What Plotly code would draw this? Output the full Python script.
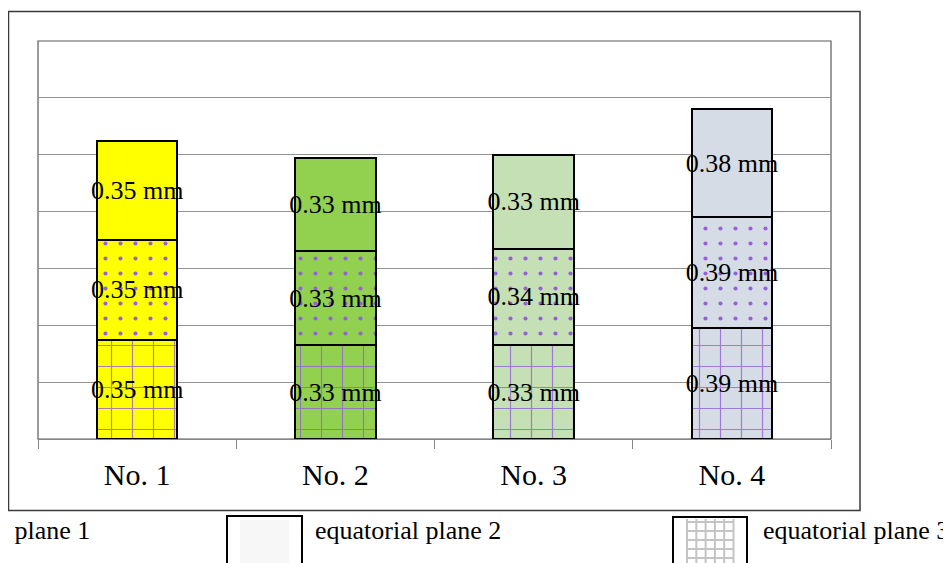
import plotly.graph_objects as go

# ---- data ----
categories = ["No. 1", "No. 2", "No. 3", "No. 4"]
plane1 = [0.35, 0.33, 0.33, 0.38]   # top segment (solid)
plane2 = [0.35, 0.33, 0.34, 0.39]   # middle segment (dots)
plane3 = [0.35, 0.33, 0.33, 0.39]   # bottom segment (grid)
bar_colors = ["#FFFF00", "#92D050", "#C5E0B4", "#D6DCE5"]
legend_labels = ["equatorial plane 1", "equatorial plane 2", "equatorial plane 3"]

# the page body has an 8px margin, so the figure is offset by 8px
OFF = 8
W, H = 951 - OFF, 563 - OFF
FONT = "Liberation Serif, Times New Roman, serif"
PURPLE = "#9461d6"

def px(x):
    return (x - OFF) / W

def py(y):
    return 1 - (y - OFF) / H

label_font = dict(family=FONT, size=26, color="black")

def seg(values, name, color, pattern):
    return go.Bar(
        x=categories, y=values, name=name,
        marker=dict(color=color, line=dict(color="black", width=2), pattern=pattern),
        texttemplate="%{y:.2f} mm", textposition="inside", insidetextanchor="middle",
        textangle=0, constraintext="none",
        insidetextfont=label_font, textfont=label_font,
        showlegend=False, hoverinfo="skip",
    )

fig = go.Figure()
# patterned segments: the per-bar colour is carried by the pattern background
fig.add_trace(seg(plane3, legend_labels[2], "white",
                  dict(shape="+", size=21, solidity=0.11, fgcolor=PURPLE,
                       bgcolor=bar_colors, fgopacity=0.8, fillmode="overlay")))
fig.add_trace(seg(plane2, legend_labels[1], "white",
                  dict(shape=".", size=15, solidity=0.06, fgcolor=PURPLE,
                       bgcolor=bar_colors, fgopacity=1, fillmode="overlay")))
fig.add_trace(seg(plane1, legend_labels[0], bar_colors, dict(shape="")))

shapes = []
# outer chart border
shapes.append(dict(type="rect", xref="paper", yref="paper",
                   x0=px(8.5), x1=px(860), y0=py(510.5), y1=py(11.5),
                   line=dict(color="#3a3a3a", width=1.5), fillcolor="rgba(0,0,0,0)", layer="below"))
# plot area border
shapes.append(dict(type="rect", xref="paper", yref="paper",
                   x0=px(38), x1=px(831), y0=py(439), y1=py(41),
                   line=dict(color="#5a5a5a", width=1.2), fillcolor="rgba(0,0,0,0)", layer="below"))
# legend swatch boxes (decoration)
shapes.append(dict(type="rect", xref="paper", yref="paper",
                   x0=px(227), x1=px(302), y0=py(600), y1=py(516),
                   line=dict(color="black", width=2), fillcolor="white"))
shapes.append(dict(type="rect", xref="paper", yref="paper",
                   x0=px(240), x1=px(289), y0=py(600), y1=py(520),
                   line=dict(width=0), fillcolor="rgba(0,0,0,0.03)"))
shapes.append(dict(type="rect", xref="paper", yref="paper",
                   x0=px(673), x1=px(747), y0=py(600), y1=py(517),
                   line=dict(color="black", width=2), fillcolor="white"))
for k in range(6):
    gx = 687 + k * 9.3
    shapes.append(dict(type="line", xref="paper", yref="paper",
                       x0=px(gx), x1=px(gx), y0=py(563), y1=py(519),
                       line=dict(color="#c4c4c4", width=2)))
for k in range(5):
    gy = 522 + k * 9
    shapes.append(dict(type="line", xref="paper", yref="paper",
                       x0=px(686), x1=px(734), y0=py(gy), y1=py(gy),
                       line=dict(color="#c4c4c4", width=2)))

legend_font = dict(family=FONT, size=26, color="black")
annotations = [
    dict(text=legend_labels[0], xref="paper", yref="paper", x=px(92), y=py(530),
         xanchor="right", yanchor="middle", showarrow=False, font=legend_font),
    dict(text=legend_labels[1], xref="paper", yref="paper", x=px(313), y=py(530),
         xanchor="left", yanchor="middle", showarrow=False, font=legend_font),
    dict(text=legend_labels[2], xref="paper", yref="paper", x=px(761), y=py(530),
         xanchor="left", yanchor="middle", showarrow=False, font=legend_font),
]

fig.update_layout(
    width=W, height=H, autosize=False,
    margin=dict(l=0, r=0, t=0, b=0),
    paper_bgcolor="white", plot_bgcolor="white",
    barmode="stack", bargap=0.595,
    showlegend=False,
    shapes=shapes, annotations=annotations,
    xaxis=dict(domain=[px(38), px(831)], type="category", range=[-0.5, 3.5],
               tickson="boundaries", ticks="outside", ticklen=9, tickcolor="#868686",
               tickfont=dict(family=FONT, size=30, color="black"),
               showline=True, linecolor="#868686", linewidth=1.2, showgrid=False,
               ticklabelstandoff=9),
    yaxis=dict(domain=[py(439), py(41)], range=[0, 1.4], dtick=0.2,
               showticklabels=False, ticks="", showgrid=True,
               gridcolor="#939393", gridwidth=1, zeroline=False, showline=False),
)

fig.write_html("out.html")
